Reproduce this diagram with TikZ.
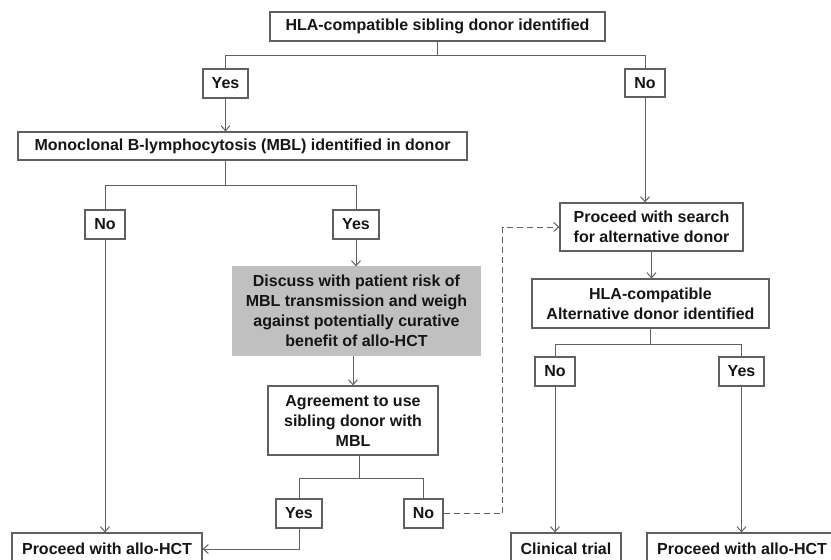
\documentclass[tikz,border=0pt]{standalone}
\usepackage{fontspec}
\setmainfont{Liberation Sans}
\usetikzlibrary{arrows.meta}
\definecolor{ln}{HTML}{606060}
\definecolor{bx}{HTML}{C0C0C0}
\definecolor{tx}{HTML}{151515}
\begin{document}
\begin{tikzpicture}[x=1pt,y=-1pt,
  box/.style={draw=ln, line width=1.2pt, text=tx, font=\fontsize{16}{20}\selectfont\bfseries,
    inner sep=0pt, align=center, rectangle},
  conn/.style={draw=ln, line width=1pt},
  arr/.style={conn, -{Straight Barb[length=5pt,width=9pt]}},
  dsh/.style={conn, dashed, dash pattern=on 6pt off 4pt, -{Straight Barb[length=5pt,width=9pt]}}
]
\useasboundingbox (0,0) rectangle (831,560);
\clip (0,0) rectangle (831,560);

% nodes
\node[box, minimum width=335pt, minimum height=29pt] (top) at (437.5,26.5) {HLA-compatible sibling donor identified};
\node[box, minimum width=45pt, minimum height=29pt] (yes1) at (225.5,83.5) {Yes};
\node[box, minimum width=40pt, minimum height=28pt] (no1) at (645,83) {No};
\node[box, minimum width=449pt, minimum height=28pt] (mbl) at (242.5,146) {Monoclonal B-lymphocytosis (MBL) identified in donor};
\node[box, minimum width=40pt, minimum height=29pt] (no2) at (105,224.5) {No};
\node[box, minimum width=46pt, minimum height=29pt] (yes2) at (356,224.5) {Yes};
\node[box, fill=bx, draw=bx, minimum width=247pt, minimum height=88pt] (disc) at (356.5,311)
  {Discuss with patient risk of\\MBL transmission and weigh\\against potentially curative\\benefit of allo-HCT};
\node[box, minimum width=170pt, minimum height=69pt] (agree) at (353,420.5)
  {Agreement to use\\sibling donor with\\MBL};
\node[box, minimum width=46pt, minimum height=29pt] (yes3) at (299,513.5) {Yes};
\node[box, minimum width=39pt, minimum height=29pt] (no3) at (423.5,513.5) {No};
\node[box, minimum width=190pt, minimum height=32pt] (proc1) at (107,549) {Proceed with allo-HCT};
\node[box, minimum width=183pt, minimum height=48pt] (search) at (651.5,227)
  {Proceed with search\\for alternative donor};
\node[box, minimum width=237pt, minimum height=49pt] (alt) at (650.5,303.5)
  {HLA-compatible\\Alternative donor identified};
\node[box, minimum width=40pt, minimum height=29pt] (no4) at (555,371.5) {No};
\node[box, minimum width=45pt, minimum height=29pt] (yes4) at (741.5,371.5) {Yes};
\node[box, minimum width=110pt, minimum height=32pt] (clin) at (566,549) {Clinical trial};
\node[box, minimum width=190pt, minimum height=32pt] (proc2) at (742,549) {Proceed with allo-HCT};

% connectors
\draw[conn] (top.south) -- ++(0,14) coordinate (tb);
\draw[conn] (tb) -| (yes1.north);
\draw[conn] (tb) -| (no1.north);
\draw[arr] (yes1.south) -- (yes1.south |- mbl.north);
\draw[arr] (no1.south) -- (no1.south |- search.north);

\draw[conn] (yes1.south |- mbl.south) -- ++(0,25) coordinate (mb);
\draw[conn] (mb) -| (no2.north);
\draw[conn] (mb) -| (yes2.north);
\draw[arr] (no2.south) -- (no2.south |- proc1.north);
\draw[arr] (yes2.south) -- (yes2.south |- disc.north);
\draw[arr] (disc.south -| agree.north) -- (agree.north);

\draw[conn] (agree.south) ++(6,0) coordinate (as) -- ++(0,23) coordinate (ab);
\draw[conn] (ab) -| (yes3.north);
\draw[conn] (ab) -| (no3.north);
\draw[arr] (yes3.south) |- (proc1.east);
\draw[dsh] (no3.east) -- ++(59,0) |- (search.west);

\draw[arr] (search.south) -- (search.south |- alt.north);
\draw[conn] (alt.south) -- ++(0,16) coordinate (alb);
\draw[conn] (alb) -| (no4.north);
\draw[conn] (alb) -| (yes4.north);
\draw[arr] (no4.south) -- (no4.south |- clin.north);
\draw[arr] (yes4.south) -- (yes4.south |- proc2.north);
\end{tikzpicture}
\end{document}
